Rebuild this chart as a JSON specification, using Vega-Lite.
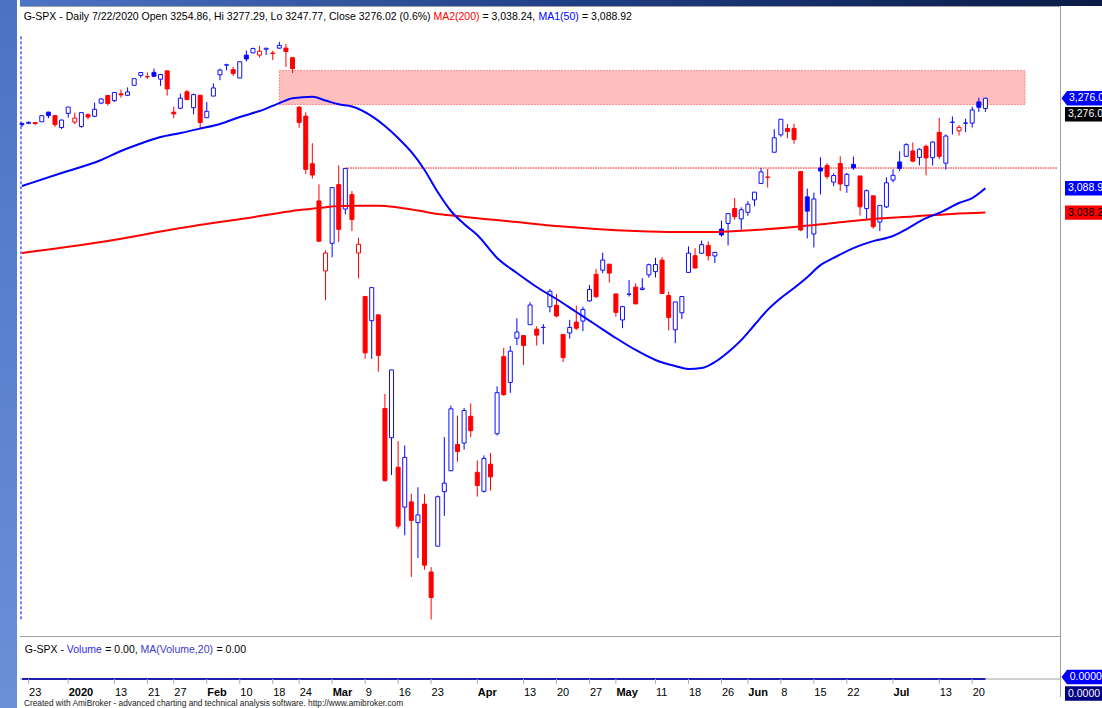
{
"$schema": "https://vega.github.io/schema/vega-lite/v6.json",
"padding": 0,
"background": "white",
"spacing": 0,
"config": {"view": {"stroke": null}, "concat": {"spacing": 0}, "font": "Liberation Sans, Arial, sans-serif"},
"datasets": {
"ohlc": [
{"d":"2019-12-20","o":3223.33,"h":3225.65,"l":3216.03,"c":3221.22},
{"d":"2019-12-23","o":3226.05,"h":3227.78,"l":3222.30,"c":3224.01},
{"d":"2019-12-24","o":3225.45,"h":3226.43,"l":3220.51,"c":3223.38},
{"d":"2019-12-26","o":3227.20,"h":3240.08,"l":3227.20,"c":3239.91},
{"d":"2019-12-27","o":3247.23,"h":3247.93,"l":3234.37,"c":3240.02},
{"d":"2019-12-30","o":3240.09,"h":3240.92,"l":3216.57,"c":3221.29},
{"d":"2019-12-31","o":3215.18,"h":3231.72,"l":3212.03,"c":3230.78},
{"d":"2020-01-02","o":3244.67,"h":3258.14,"l":3235.53,"c":3257.85},
{"d":"2020-01-03","o":3226.36,"h":3246.15,"l":3222.34,"c":3234.85},
{"d":"2020-01-06","o":3217.55,"h":3246.84,"l":3214.64,"c":3246.28},
{"d":"2020-01-07","o":3241.86,"h":3244.91,"l":3232.43,"c":3237.18},
{"d":"2020-01-08","o":3238.59,"h":3267.07,"l":3236.67,"c":3253.05},
{"d":"2020-01-09","o":3266.03,"h":3275.58,"l":3263.67,"c":3274.70},
{"d":"2020-01-10","o":3281.81,"h":3282.99,"l":3260.86,"c":3265.35},
{"d":"2020-01-13","o":3271.13,"h":3288.13,"l":3268.43,"c":3288.13},
{"d":"2020-01-14","o":3285.35,"h":3294.25,"l":3277.19,"c":3283.15},
{"d":"2020-01-15","o":3282.27,"h":3298.66,"l":3280.69,"c":3289.29},
{"d":"2020-01-16","o":3302.97,"h":3317.11,"l":3302.82,"c":3316.81},
{"d":"2020-01-17","o":3323.66,"h":3329.88,"l":3318.86,"c":3329.62},
{"d":"2020-01-21","o":3321.03,"h":3329.79,"l":3316.61,"c":3320.79},
{"d":"2020-01-22","o":3330.02,"h":3337.77,"l":3320.04,"c":3321.75},
{"d":"2020-01-23","o":3315.77,"h":3326.88,"l":3301.87,"c":3325.54},
{"d":"2020-01-24","o":3333.10,"h":3333.18,"l":3281.53,"c":3295.47},
{"d":"2020-01-27","o":3247.16,"h":3258.85,"l":3234.50,"c":3243.63},
{"d":"2020-01-28","o":3255.35,"h":3285.78,"l":3253.22,"c":3276.24},
{"d":"2020-01-29","o":3289.46,"h":3293.47,"l":3271.89,"c":3273.40},
{"d":"2020-01-30","o":3256.45,"h":3285.91,"l":3242.80,"c":3283.66},
{"d":"2020-01-31","o":3282.33,"h":3282.33,"l":3214.68,"c":3225.52},
{"d":"2020-02-03","o":3235.66,"h":3268.44,"l":3235.66,"c":3248.92},
{"d":"2020-02-04","o":3280.61,"h":3306.92,"l":3280.61,"c":3297.59},
{"d":"2020-02-05","o":3324.91,"h":3337.58,"l":3313.75,"c":3334.69},
{"d":"2020-02-06","o":3344.92,"h":3347.96,"l":3334.39,"c":3345.78},
{"d":"2020-02-07","o":3335.54,"h":3341.42,"l":3322.12,"c":3327.71},
{"d":"2020-02-10","o":3318.28,"h":3352.26,"l":3317.77,"c":3352.09},
{"d":"2020-02-11","o":3365.87,"h":3375.63,"l":3352.72,"c":3357.75},
{"d":"2020-02-12","o":3370.50,"h":3381.47,"l":3369.72,"c":3379.45},
{"d":"2020-02-13","o":3365.90,"h":3385.09,"l":3360.52,"c":3373.94},
{"d":"2020-02-14","o":3378.08,"h":3380.69,"l":3366.15,"c":3380.16},
{"d":"2020-02-18","o":3369.04,"h":3375.01,"l":3355.61,"c":3370.29},
{"d":"2020-02-19","o":3380.39,"h":3393.52,"l":3378.83,"c":3386.15},
{"d":"2020-02-20","o":3380.45,"h":3389.15,"l":3341.02,"c":3373.23},
{"d":"2020-02-21","o":3360.50,"h":3360.76,"l":3328.45,"c":3337.75},
{"d":"2020-02-24","o":3257.61,"h":3259.81,"l":3214.65,"c":3225.89},
{"d":"2020-02-25","o":3238.94,"h":3246.99,"l":3118.77,"c":3128.21},
{"d":"2020-02-26","o":3139.90,"h":3182.51,"l":3108.99,"c":3116.39},
{"d":"2020-02-27","o":3062.54,"h":3097.07,"l":2977.39,"c":2978.76},
{"d":"2020-02-28","o":2916.90,"h":2959.72,"l":2855.84,"c":2954.22},
{"d":"2020-03-02","o":2974.28,"h":3090.96,"l":2945.19,"c":3090.23},
{"d":"2020-03-03","o":3096.46,"h":3136.72,"l":2976.63,"c":3003.37},
{"d":"2020-03-04","o":3045.75,"h":3130.97,"l":3034.38,"c":3130.12},
{"d":"2020-03-05","o":3075.70,"h":3083.04,"l":2999.83,"c":3023.94},
{"d":"2020-03-06","o":2954.20,"h":2985.93,"l":2901.54,"c":2972.37},
{"d":"2020-03-09","o":2863.89,"h":2863.89,"l":2734.43,"c":2746.56},
{"d":"2020-03-10","o":2813.48,"h":2882.59,"l":2734.00,"c":2882.23},
{"d":"2020-03-11","o":2825.60,"h":2825.60,"l":2707.22,"c":2741.38},
{"d":"2020-03-12","o":2630.86,"h":2660.95,"l":2478.86,"c":2480.64},
{"d":"2020-03-13","o":2569.99,"h":2711.33,"l":2492.37,"c":2711.02},
{"d":"2020-03-16","o":2508.59,"h":2562.98,"l":2380.94,"c":2386.13},
{"d":"2020-03-17","o":2425.66,"h":2553.93,"l":2367.04,"c":2529.19},
{"d":"2020-03-18","o":2436.50,"h":2453.57,"l":2280.52,"c":2398.10},
{"d":"2020-03-19","o":2393.48,"h":2466.97,"l":2319.78,"c":2409.39},
{"d":"2020-03-20","o":2431.94,"h":2453.01,"l":2295.56,"c":2304.92},
{"d":"2020-03-23","o":2290.71,"h":2300.73,"l":2191.86,"c":2237.40},
{"d":"2020-03-24","o":2344.44,"h":2449.71,"l":2344.44,"c":2447.33},
{"d":"2020-03-25","o":2457.77,"h":2571.42,"l":2407.53,"c":2475.56},
{"d":"2020-03-26","o":2501.29,"h":2637.01,"l":2500.72,"c":2630.07},
{"d":"2020-03-27","o":2555.87,"h":2615.91,"l":2520.02,"c":2541.47},
{"d":"2020-03-30","o":2558.98,"h":2631.80,"l":2545.28,"c":2626.65},
{"d":"2020-03-31","o":2614.69,"h":2641.39,"l":2571.15,"c":2584.59},
{"d":"2020-04-01","o":2498.08,"h":2522.75,"l":2447.49,"c":2470.50},
{"d":"2020-04-02","o":2458.54,"h":2533.22,"l":2455.79,"c":2526.90},
{"d":"2020-04-03","o":2514.92,"h":2538.18,"l":2459.96,"c":2488.65},
{"d":"2020-04-06","o":2578.28,"h":2676.85,"l":2574.57,"c":2663.68},
{"d":"2020-04-07","o":2738.65,"h":2756.89,"l":2657.67,"c":2659.41},
{"d":"2020-04-08","o":2685.00,"h":2760.75,"l":2663.30,"c":2749.98},
{"d":"2020-04-09","o":2776.99,"h":2818.57,"l":2762.36,"c":2789.82},
{"d":"2020-04-13","o":2782.46,"h":2782.46,"l":2721.17,"c":2761.63},
{"d":"2020-04-14","o":2805.10,"h":2851.85,"l":2805.10,"c":2846.06},
{"d":"2020-04-15","o":2795.64,"h":2801.88,"l":2761.54,"c":2783.36},
{"d":"2020-04-16","o":2799.34,"h":2806.51,"l":2764.32,"c":2799.55},
{"d":"2020-04-17","o":2842.43,"h":2879.22,"l":2830.88,"c":2874.56},
{"d":"2020-04-20","o":2845.62,"h":2868.98,"l":2820.43,"c":2823.16},
{"d":"2020-04-21","o":2784.81,"h":2785.54,"l":2727.10,"c":2736.56},
{"d":"2020-04-22","o":2787.89,"h":2815.10,"l":2775.95,"c":2799.31},
{"d":"2020-04-23","o":2810.42,"h":2844.90,"l":2794.26,"c":2797.80},
{"d":"2020-04-24","o":2812.64,"h":2842.71,"l":2791.76,"c":2836.74},
{"d":"2020-04-27","o":2854.65,"h":2887.72,"l":2852.89,"c":2878.48},
{"d":"2020-04-28","o":2909.96,"h":2921.15,"l":2860.71,"c":2863.39},
{"d":"2020-04-29","o":2918.46,"h":2954.86,"l":2912.16,"c":2939.51},
{"d":"2020-04-30","o":2930.91,"h":2930.91,"l":2892.47,"c":2912.43},
{"d":"2020-05-01","o":2869.09,"h":2869.09,"l":2821.61,"c":2830.71},
{"d":"2020-05-04","o":2815.01,"h":2844.24,"l":2797.85,"c":2842.74},
{"d":"2020-05-05","o":2868.88,"h":2898.23,"l":2863.55,"c":2868.44},
{"d":"2020-05-06","o":2883.14,"h":2891.11,"l":2847.65,"c":2848.42},
{"d":"2020-05-07","o":2878.26,"h":2901.92,"l":2876.48,"c":2881.19},
{"d":"2020-05-08","o":2908.83,"h":2932.16,"l":2902.88,"c":2929.80},
{"d":"2020-05-11","o":2915.46,"h":2944.25,"l":2903.44,"c":2930.32},
{"d":"2020-05-12","o":2939.50,"h":2945.82,"l":2869.59,"c":2870.12},
{"d":"2020-05-13","o":2865.86,"h":2874.14,"l":2793.15,"c":2820.00},
{"d":"2020-05-14","o":2794.54,"h":2852.80,"l":2766.64,"c":2852.50},
{"d":"2020-05-15","o":2829.95,"h":2865.01,"l":2816.78,"c":2863.70},
{"d":"2020-05-18","o":2913.86,"h":2968.09,"l":2913.86,"c":2953.91},
{"d":"2020-05-19","o":2948.59,"h":2964.21,"l":2922.35,"c":2922.94},
{"d":"2020-05-20","o":2953.63,"h":2980.29,"l":2953.63,"c":2971.61},
{"d":"2020-05-21","o":2969.95,"h":2978.50,"l":2938.57,"c":2948.51},
{"d":"2020-05-22","o":2948.05,"h":2956.76,"l":2933.59,"c":2955.45},
{"d":"2020-05-26","o":3004.08,"h":3021.72,"l":2988.17,"c":2991.77},
{"d":"2020-05-27","o":3015.65,"h":3036.25,"l":2969.75,"c":3036.13},
{"d":"2020-05-28","o":3046.61,"h":3068.67,"l":3023.40,"c":3029.73},
{"d":"2020-05-29","o":3025.17,"h":3049.17,"l":2998.61,"c":3044.31},
{"d":"2020-06-01","o":3038.78,"h":3062.18,"l":3031.54,"c":3055.73},
{"d":"2020-06-02","o":3064.78,"h":3081.07,"l":3051.64,"c":3080.82},
{"d":"2020-06-03","o":3098.90,"h":3130.94,"l":3098.90,"c":3122.87},
{"d":"2020-06-04","o":3111.56,"h":3128.91,"l":3090.41,"c":3112.35},
{"d":"2020-06-05","o":3163.84,"h":3211.72,"l":3163.84,"c":3193.93},
{"d":"2020-06-08","o":3199.92,"h":3233.13,"l":3196.00,"c":3232.39},
{"d":"2020-06-09","o":3213.32,"h":3222.71,"l":3193.11,"c":3207.18},
{"d":"2020-06-10","o":3213.42,"h":3223.27,"l":3181.49,"c":3190.14},
{"d":"2020-06-11","o":3123.53,"h":3123.53,"l":2999.49,"c":3002.10},
{"d":"2020-06-12","o":3071.04,"h":3088.42,"l":2984.47,"c":3041.31},
{"d":"2020-06-15","o":2993.76,"h":3079.76,"l":2965.66,"c":3066.59},
{"d":"2020-06-16","o":3131.00,"h":3153.45,"l":3076.06,"c":3124.74},
{"d":"2020-06-17","o":3136.13,"h":3141.16,"l":3108.03,"c":3113.49},
{"d":"2020-06-18","o":3101.64,"h":3120.00,"l":3093.51,"c":3115.34},
{"d":"2020-06-19","o":3140.29,"h":3155.53,"l":3083.11,"c":3097.74},
{"d":"2020-06-22","o":3094.42,"h":3120.92,"l":3079.39,"c":3117.86},
{"d":"2020-06-23","o":3138.70,"h":3154.90,"l":3127.12,"c":3131.29},
{"d":"2020-06-24","o":3114.40,"h":3115.01,"l":3032.13,"c":3050.33},
{"d":"2020-06-25","o":3046.60,"h":3086.25,"l":3024.01,"c":3083.76},
{"d":"2020-06-26","o":3073.20,"h":3073.73,"l":3004.63,"c":3009.05},
{"d":"2020-06-29","o":3018.59,"h":3053.89,"l":2999.74,"c":3053.24},
{"d":"2020-06-30","o":3050.20,"h":3111.51,"l":3047.83,"c":3100.29},
{"d":"2020-07-01","o":3105.92,"h":3128.44,"l":3101.17,"c":3115.86},
{"d":"2020-07-02","o":3143.64,"h":3165.81,"l":3124.52,"c":3130.01},
{"d":"2020-07-06","o":3155.29,"h":3182.59,"l":3155.29,"c":3179.72},
{"d":"2020-07-07","o":3166.44,"h":3184.15,"l":3142.93,"c":3145.32},
{"d":"2020-07-08","o":3153.07,"h":3171.80,"l":3136.53,"c":3169.94},
{"d":"2020-07-09","o":3176.17,"h":3179.78,"l":3115.70,"c":3152.05},
{"d":"2020-07-10","o":3152.47,"h":3186.82,"l":3136.22,"c":3185.04},
{"d":"2020-07-13","o":3205.08,"h":3235.32,"l":3149.43,"c":3155.22},
{"d":"2020-07-14","o":3141.11,"h":3200.95,"l":3127.66,"c":3197.52},
{"d":"2020-07-15","o":3225.98,"h":3238.28,"l":3200.76,"c":3226.56},
{"d":"2020-07-16","o":3208.36,"h":3220.39,"l":3198.59,"c":3215.57},
{"d":"2020-07-17","o":3224.21,"h":3233.52,"l":3205.65,"c":3224.73},
{"d":"2020-07-20","o":3224.29,"h":3258.61,"l":3215.16,"c":3251.84},
{"d":"2020-07-21","o":3268.52,"h":3277.29,"l":3247.77,"c":3257.30},
{"d":"2020-07-22","o":3254.86,"h":3277.29,"l":3247.77,"c":3276.02}
],
"ma50": [
{"d":"2019-12-20","v":3093.6},{"d":"2019-12-31","v":3120.6},{"d":"2020-01-09","v":3147.7},{"d":"2020-01-14","v":3166.4},
{"d":"2020-01-17","v":3182.0},{"d":"2020-01-23","v":3195.5},{"d":"2020-01-28","v":3203.8},{"d":"2020-01-31","v":3213.0},
{"d":"2020-02-05","v":3222.6},{"d":"2020-02-10","v":3237.0},{"d":"2020-02-13","v":3249.6},{"d":"2020-02-19","v":3266.0},
{"d":"2020-02-21","v":3276.0},{"d":"2020-02-26","v":3279.3},{"d":"2020-02-28","v":3271.4},{"d":"2020-03-03","v":3263.5},
{"d":"2020-03-05","v":3259.0},{"d":"2020-03-10","v":3239.0},{"d":"2020-03-12","v":3218.4},{"d":"2020-03-16","v":3193.4},
{"d":"2020-03-18","v":3164.4},{"d":"2020-03-20","v":3127.0},{"d":"2020-03-24","v":3081.0},{"d":"2020-03-26","v":3041.6},
{"d":"2020-03-30","v":3014.5},{"d":"2020-04-01","v":2991.6},{"d":"2020-04-06","v":2944.0},{"d":"2020-04-09","v":2912.6},
{"d":"2020-04-15","v":2883.5},{"d":"2020-04-20","v":2858.5},{"d":"2020-04-23","v":2831.5},{"d":"2020-04-28","v":2804.5},
{"d":"2020-05-01","v":2777.4},{"d":"2020-05-06","v":2752.5},{"d":"2020-05-11","v":2731.7},{"d":"2020-05-14","v":2719.0},
{"d":"2020-05-18","v":2713.0},{"d":"2020-05-20","v":2715.0},{"d":"2020-05-22","v":2727.5},{"d":"2020-05-27","v":2748.0},
{"d":"2020-05-29","v":2773.0},{"d":"2020-06-02","v":2804.5},{"d":"2020-06-04","v":2836.0},{"d":"2020-06-08","v":2860.6},
{"d":"2020-06-10","v":2881.6},{"d":"2020-06-12","v":2904.0},{"d":"2020-06-16","v":2929.0},{"d":"2020-06-18","v":2944.0},
{"d":"2020-06-23","v":2964.5},{"d":"2020-06-26","v":2979.0},{"d":"2020-07-01","v":2989.5},{"d":"2020-07-06","v":3003.6},
{"d":"2020-07-09","v":3026.6},{"d":"2020-07-13","v":3037.4},{"d":"2020-07-16","v":3058.2},{"d":"2020-07-20","v":3068.6},
{"d":"2020-07-22","v":3088.92}
],
"ma200": [
{"d":"2019-12-20","v":2954.2},{"d":"2020-01-09","v":2977.0},{"d":"2020-01-28","v":3006.2},{"d":"2020-02-13","v":3031.0},
{"d":"2020-02-19","v":3037.5},{"d":"2020-02-24","v":3043.7},{"d":"2020-02-27","v":3047.8},{"d":"2020-03-03","v":3052.0},
{"d":"2020-03-06","v":3052.6},{"d":"2020-03-11","v":3052.6},{"d":"2020-03-16","v":3048.9},{"d":"2020-03-19","v":3042.6},
{"d":"2020-03-24","v":3035.3},{"d":"2020-03-27","v":3031.2},{"d":"2020-04-01","v":3026.4},{"d":"2020-04-09","v":3018.7},
{"d":"2020-04-20","v":3010.4},{"d":"2020-04-28","v":3004.2},{"d":"2020-05-06","v":3000.0},{"d":"2020-05-14","v":2997.9},
{"d":"2020-05-22","v":2997.9},{"d":"2020-06-02","v":3002.0},{"d":"2020-06-10","v":3008.3},{"d":"2020-06-18","v":3016.6},
{"d":"2020-06-26","v":3025.0},{"d":"2020-07-07","v":3030.2},{"d":"2020-07-15","v":3035.4},{"d":"2020-07-22","v":3038.24}
],
"xlab": [
{"d":"2019-12-23","t":"23","k":"d"},{"d":"2020-01-02","t":"2020","k":"m"},{"d":"2020-01-13","t":"13","k":"d"},
{"d":"2020-01-21","t":"21","k":"d"},{"d":"2020-01-27","t":"27","k":"d"},{"d":"2020-02-03","t":"Feb","k":"m"},
{"d":"2020-02-10","t":"10","k":"d"},{"d":"2020-02-18","t":"18","k":"d"},{"d":"2020-02-24","t":"24","k":"d"},
{"d":"2020-03-02","t":"Mar","k":"m"},{"d":"2020-03-09","t":"9","k":"d"},{"d":"2020-03-16","t":"16","k":"d"},
{"d":"2020-03-23","t":"23","k":"d"},{"d":"2020-04-01","t":"Apr","k":"m"},{"d":"2020-04-13","t":"13","k":"d"},
{"d":"2020-04-20","t":"20","k":"d"},{"d":"2020-04-27","t":"27","k":"d"},{"d":"2020-05-01","t":"May","k":"m"},
{"d":"2020-05-11","t":"11","k":"d"},{"d":"2020-05-18","t":"18","k":"d"},{"d":"2020-05-26","t":"26","k":"d"},
{"d":"2020-06-01","t":"Jun","k":"m"},{"d":"2020-06-08","t":"8","k":"d"},{"d":"2020-06-15","t":"15","k":"d"},
{"d":"2020-06-22","t":"22","k":"d"},{"d":"2020-07-01","t":"Jul","k":"m"},{"d":"2020-07-13","t":"13","k":"d"},
{"d":"2020-07-20","t":"20","k":"d"}
]
},
"hconcat": [
{
"width": 17, "height": 708,
"data": {"values": [{}]},
"mark": {"type": "rect", "color": {"x1": 0, "y1": 0, "x2": 0, "y2": 1, "gradient": "linear", "stops": [{"offset": 0, "color": "#4b73c4"}, {"offset": 1, "color": "#6b90d8"}]}},
"encoding": {
"x": {"datum": 0, "type": "quantitative", "scale": {"domain": [0, 1]}, "axis": null},
"x2": {"datum": 1},
"y": {"datum": 0, "type": "quantitative", "scale": {"domain": [0, 1]}, "axis": null},
"y2": {"datum": 1}
}
},
{
"spacing": 0,
"vconcat": [
{
"width": 1085, "height": 6,
"data": {"values": [{}]},
"mark": {"type": "rect", "color": {"x1": 0, "y1": 0, "x2": 1, "y2": 0, "gradient": "linear", "stops": [{"offset": 0, "color": "#4d75c5"}, {"offset": 0.5, "color": "#203f86"}, {"offset": 1, "color": "#0a1b46"}]}},
"encoding": {
"x": {"datum": 0, "type": "quantitative", "scale": {"domain": [0, 1]}, "axis": null},
"x2": {"datum": 1},
"y": {"datum": 0, "type": "quantitative", "scale": {"domain": [0, 1]}, "axis": null},
"y2": {"datum": 1}
}
},
{
"spacing": 0,
"bounds": "flush",
"hconcat": [
{
"width": 1040, "height": 631,
"view": {"stroke": null, "fill": "white"},
"layer": [
{
"data": {"values": [{}]},
"mark": {"type": "rect", "fill": "#ffbfbf", "stroke": "#ff7070", "strokeWidth": 1, "strokeDash": [1.5, 1.5]},
"encoding": {
"x": {"datum": "2020-02-19", "type": "ordinal", "axis": null},
"x2": {"datum": "2020-07-30"},
"y": {"datum": 3334, "type": "quantitative", "axis": null},
"y2": {"datum": 3263}
}
},
{
"data": {"values": [{}]},
"mark": {"type": "rule", "color": "#ff0000", "strokeWidth": 1, "strokeDash": [1.5, 1]},
"encoding": {
"x": {"datum": "2020-03-04", "type": "ordinal", "axis": null},
"x2": {"datum": "2020-08-06"},
"y": {"datum": 3131, "type": "quantitative", "axis": null}
}
},
{
"data": {"name": "ohlc"},
"transform": [{"window": [{"op": "lag", "field": "c", "as": "pc"}], "sort": [{"field": "d", "order": "ascending"}]}],
"layer": [
{
"mark": {"type": "rule", "strokeWidth": 1},
"encoding": {
"x": {"field": "d", "type": "ordinal", "axis": null, "scale": {"type": "point", "padding": 0.303, "domain": ["2019-12-20","2019-12-23","2019-12-24","2019-12-26","2019-12-27","2019-12-30","2019-12-31","2020-01-02","2020-01-03","2020-01-06","2020-01-07","2020-01-08","2020-01-09","2020-01-10","2020-01-13","2020-01-14","2020-01-15","2020-01-16","2020-01-17","2020-01-21","2020-01-22","2020-01-23","2020-01-24","2020-01-27","2020-01-28","2020-01-29","2020-01-30","2020-01-31","2020-02-03","2020-02-04","2020-02-05","2020-02-06","2020-02-07","2020-02-10","2020-02-11","2020-02-12","2020-02-13","2020-02-14","2020-02-18","2020-02-19","2020-02-20","2020-02-21","2020-02-24","2020-02-25","2020-02-26","2020-02-27","2020-02-28","2020-03-02","2020-03-03","2020-03-04","2020-03-05","2020-03-06","2020-03-09","2020-03-10","2020-03-11","2020-03-12","2020-03-13","2020-03-16","2020-03-17","2020-03-18","2020-03-19","2020-03-20","2020-03-23","2020-03-24","2020-03-25","2020-03-26","2020-03-27","2020-03-30","2020-03-31","2020-04-01","2020-04-02","2020-04-03","2020-04-06","2020-04-07","2020-04-08","2020-04-09","2020-04-13","2020-04-14","2020-04-15","2020-04-16","2020-04-17","2020-04-20","2020-04-21","2020-04-22","2020-04-23","2020-04-24","2020-04-27","2020-04-28","2020-04-29","2020-04-30","2020-05-01","2020-05-04","2020-05-05","2020-05-06","2020-05-07","2020-05-08","2020-05-11","2020-05-12","2020-05-13","2020-05-14","2020-05-15","2020-05-18","2020-05-19","2020-05-20","2020-05-21","2020-05-22","2020-05-26","2020-05-27","2020-05-28","2020-05-29","2020-06-01","2020-06-02","2020-06-03","2020-06-04","2020-06-05","2020-06-08","2020-06-09","2020-06-10","2020-06-11","2020-06-12","2020-06-15","2020-06-16","2020-06-17","2020-06-18","2020-06-19","2020-06-22","2020-06-23","2020-06-24","2020-06-25","2020-06-26","2020-06-29","2020-06-30","2020-07-01","2020-07-02","2020-07-06","2020-07-07","2020-07-08","2020-07-09","2020-07-10","2020-07-13","2020-07-14","2020-07-15","2020-07-16","2020-07-17","2020-07-20","2020-07-21","2020-07-22","2020-07-23","2020-07-24","2020-07-27","2020-07-28","2020-07-29","2020-07-30","2020-07-31","2020-08-03","2020-08-04","2020-08-05","2020-08-06"]}},
"y": {"field": "l", "type": "quantitative", "axis": null, "scale": {"domain": [2155.5, 3468], "nice": false, "zero": false}},
"y2": {"field": "h"},
"color": {"condition": {"test": "datum.c >= datum.pc", "value": "#0000ff"}, "value": "#ff0000"}
}
},
{
"mark": {"type": "bar", "width": 4, "strokeWidth": 1},
"encoding": {
"x": {"field": "d", "type": "ordinal", "axis": null},
"y": {"field": "o", "type": "quantitative", "axis": null},
"y2": {"field": "c"},
"stroke": {"condition": {"test": "datum.c >= datum.pc", "value": "#1010ff"}, "value": "#ff0000"},
"fill": {"condition": [{"test": "datum.c > datum.o", "value": "#ffffff"}, {"test": "datum.c >= datum.pc", "value": "#0000ff"}], "value": "#ff0000"}
}
}
]
},
{
"data": {"name": "ma200"},
"mark": {"type": "line", "color": "#ff0000", "strokeWidth": 2, "interpolate": "monotone"},
"encoding": {
"x": {"field": "d", "type": "ordinal", "axis": null},
"y": {"field": "v", "type": "quantitative", "axis": null}
}
},
{
"data": {"name": "ma50"},
"mark": {"type": "line", "color": "#0000ff", "strokeWidth": 2, "interpolate": "monotone"},
"encoding": {
"x": {"field": "d", "type": "ordinal", "axis": null},
"y": {"field": "v", "type": "quantitative", "axis": null}
}
},
{
"data": {"values": [{}]},
"mark": {"type": "rule", "color": "#0000ff", "strokeWidth": 1, "strokeDash": [3, 2], "xOffset": -1},
"encoding": {
"x": {"datum": "2019-12-20", "type": "ordinal", "axis": null},
"y": {"datum": 3405, "type": "quantitative", "axis": null},
"y2": {"datum": 2192}
}
},
{
"data": {"values": [{}]},
"mark": {"type": "rule", "color": "#a0a0a0", "strokeWidth": 2, "clip": true},
"encoding": {"y": {"datum": 3468, "type": "quantitative", "axis": null}}
},
{
"data": {"values": [{}]},
"mark": {"type": "rule", "color": "#a0a0a0", "strokeWidth": 2, "clip": true},
"encoding": {"y": {"datum": 2155.5, "type": "quantitative", "axis": null}}
},
{
"data": {"values": [{}]},
"mark": {"type": "text", "align": "left", "baseline": "alphabetic", "fontSize": 10.5, "color": "#000000", "dx": 1.7},
"encoding": {
"x": {"datum": "2019-12-20", "type": "ordinal", "axis": null},
"y": {"datum": 3439, "type": "quantitative", "axis": null},
"text": {"value": "G-SPX - Daily 7/22/2020 Open 3254.86, Hi 3277.29, Lo 3247.77, Close 3276.02 (0.6%)"}
}
},
{
"data": {"values": [{}]},
"mark": {"type": "text", "align": "left", "baseline": "alphabetic", "fontSize": 10.5, "color": "#ff0000", "dx": 411.4},
"encoding": {
"x": {"datum": "2019-12-20", "type": "ordinal", "axis": null},
"y": {"datum": 3439, "type": "quantitative", "axis": null},
"text": {"value": "MA2(200)"}
}
},
{
"data": {"values": [{}]},
"mark": {"type": "text", "align": "left", "baseline": "alphabetic", "fontSize": 10.5, "color": "#000000", "dx": 460.4},
"encoding": {
"x": {"datum": "2019-12-20", "type": "ordinal", "axis": null},
"y": {"datum": 3439, "type": "quantitative", "axis": null},
"text": {"value": "= 3,038.24,"}
}
},
{
"data": {"values": [{}]},
"mark": {"type": "text", "align": "left", "baseline": "alphabetic", "fontSize": 10.5, "color": "#0000ff", "dx": 516.5},
"encoding": {
"x": {"datum": "2019-12-20", "type": "ordinal", "axis": null},
"y": {"datum": 3439, "type": "quantitative", "axis": null},
"text": {"value": "MA1(50)"}
}
},
{
"data": {"values": [{}]},
"mark": {"type": "text", "align": "left", "baseline": "alphabetic", "fontSize": 10.5, "color": "#000000", "dx": 560},
"encoding": {
"x": {"datum": "2019-12-20", "type": "ordinal", "axis": null},
"y": {"datum": 3439, "type": "quantitative", "axis": null},
"text": {"value": "= 3,088.92"}
}
}
]
},
{
"width": 45, "height": 631,
"view": {"stroke": null, "fill": "white"},
"data": {"values": [{}]},
"layer": [
{
"mark": {"type": "rule", "color": "#a0a0a0", "strokeWidth": 2, "clip": true},
"encoding": {
"x": {"datum": 0, "type": "quantitative", "axis": null, "scale": {"domain": [0, 1], "nice": false, "zero": false}},
"y": {"datum": 3468, "type": "quantitative", "axis": null, "scale": {"domain": [2155.5, 3468], "nice": false, "zero": false}},
"y2": {"datum": 2155.5}
}
},
{
"mark": {"type": "point", "shape": "M-1.05,0L-0.775,-0.36H1.125V0.36H-0.775Z", "filled": true, "size": 1600, "color": "#0000ff", "opacity": 1, "strokeWidth": 0, "clip": true},
"encoding": {"x": {"datum": 0.5, "type": "quantitative", "axis": null}, "y": {"datum": 3276.02, "type": "quantitative", "axis": null}}
},
{
"mark": {"type": "point", "shape": "M-0.875,-0.36H1.125V0.36H-0.875Z", "filled": true, "size": 1600, "color": "#000000", "opacity": 1, "strokeWidth": 0, "clip": true, "yOffset": 16},
"encoding": {"x": {"datum": 0.5, "type": "quantitative", "axis": null}, "y": {"datum": 3276.02, "type": "quantitative", "axis": null}}
},
{
"mark": {"type": "point", "shape": "M-0.875,-0.36H1.125V0.36H-0.875Z", "filled": true, "size": 1600, "color": "#0000ff", "opacity": 1, "strokeWidth": 0, "clip": true},
"encoding": {"x": {"datum": 0.5, "type": "quantitative", "axis": null}, "y": {"datum": 3088.92, "type": "quantitative", "axis": null}}
},
{
"mark": {"type": "point", "shape": "M-0.875,-0.36H1.125V0.36H-0.875Z", "filled": true, "size": 1600, "color": "#ff0000", "opacity": 1, "strokeWidth": 0, "clip": true},
"encoding": {"x": {"datum": 0.5, "type": "quantitative", "axis": null}, "y": {"datum": 3038.24, "type": "quantitative", "axis": null}}
},
{
"mark": {"type": "text", "align": "left", "baseline": "middle", "fontSize": 10.5, "color": "#ffffff", "dx": -13.5},
"encoding": {"x": {"datum": 0.5, "type": "quantitative", "axis": null}, "y": {"datum": 3276.02, "type": "quantitative", "axis": null}, "text": {"datum": 3276.02, "format": ",.1f"}}
},
{
"mark": {"type": "text", "align": "left", "baseline": "middle", "fontSize": 10.5, "color": "#ffffff", "dx": -14.5, "yOffset": 16},
"encoding": {"x": {"datum": 0.5, "type": "quantitative", "axis": null}, "y": {"datum": 3276.02, "type": "quantitative", "axis": null}, "text": {"datum": 3276.02, "format": ",.1f"}}
},
{
"mark": {"type": "text", "align": "left", "baseline": "middle", "fontSize": 10.5, "color": "#ffffff", "dx": -14.5},
"encoding": {"x": {"datum": 0.5, "type": "quantitative", "axis": null}, "y": {"datum": 3088.92, "type": "quantitative", "axis": null}, "text": {"datum": 3088.92, "format": ",.1f"}}
},
{
"mark": {"type": "text", "align": "left", "baseline": "middle", "fontSize": 10.5, "color": "#000000", "dx": -14.5},
"encoding": {"x": {"datum": 0.5, "type": "quantitative", "axis": null}, "y": {"datum": 3038.24, "type": "quantitative", "axis": null}, "text": {"datum": 3038.24, "format": ",.1f"}}
}
]
}
]
},
{
"spacing": 0,
"bounds": "flush",
"hconcat": [
{
"width": 1040, "height": 42,
"view": {"stroke": null, "fill": "white"},
"layer": [
{
"data": {"values": [{}]},
"mark": {"type": "rule", "color": "#a0a0a0", "strokeWidth": 1},
"encoding": {"y": {"datum": 0, "type": "quantitative", "axis": null, "scale": {"domain": [0, 1], "nice": false, "zero": false}}}
},
{
"data": {"name": "ohlc"},
"mark": {"type": "line", "color": "#1f1fb0", "strokeWidth": 2},
"encoding": {
"x": {"field": "d", "type": "ordinal", "axis": null,
"scale": {"type": "point", "padding": 0.303, "domain": ["2019-12-20","2019-12-23","2019-12-24","2019-12-26","2019-12-27","2019-12-30","2019-12-31","2020-01-02","2020-01-03","2020-01-06","2020-01-07","2020-01-08","2020-01-09","2020-01-10","2020-01-13","2020-01-14","2020-01-15","2020-01-16","2020-01-17","2020-01-21","2020-01-22","2020-01-23","2020-01-24","2020-01-27","2020-01-28","2020-01-29","2020-01-30","2020-01-31","2020-02-03","2020-02-04","2020-02-05","2020-02-06","2020-02-07","2020-02-10","2020-02-11","2020-02-12","2020-02-13","2020-02-14","2020-02-18","2020-02-19","2020-02-20","2020-02-21","2020-02-24","2020-02-25","2020-02-26","2020-02-27","2020-02-28","2020-03-02","2020-03-03","2020-03-04","2020-03-05","2020-03-06","2020-03-09","2020-03-10","2020-03-11","2020-03-12","2020-03-13","2020-03-16","2020-03-17","2020-03-18","2020-03-19","2020-03-20","2020-03-23","2020-03-24","2020-03-25","2020-03-26","2020-03-27","2020-03-30","2020-03-31","2020-04-01","2020-04-02","2020-04-03","2020-04-06","2020-04-07","2020-04-08","2020-04-09","2020-04-13","2020-04-14","2020-04-15","2020-04-16","2020-04-17","2020-04-20","2020-04-21","2020-04-22","2020-04-23","2020-04-24","2020-04-27","2020-04-28","2020-04-29","2020-04-30","2020-05-01","2020-05-04","2020-05-05","2020-05-06","2020-05-07","2020-05-08","2020-05-11","2020-05-12","2020-05-13","2020-05-14","2020-05-15","2020-05-18","2020-05-19","2020-05-20","2020-05-21","2020-05-22","2020-05-26","2020-05-27","2020-05-28","2020-05-29","2020-06-01","2020-06-02","2020-06-03","2020-06-04","2020-06-05","2020-06-08","2020-06-09","2020-06-10","2020-06-11","2020-06-12","2020-06-15","2020-06-16","2020-06-17","2020-06-18","2020-06-19","2020-06-22","2020-06-23","2020-06-24","2020-06-25","2020-06-26","2020-06-29","2020-06-30","2020-07-01","2020-07-02","2020-07-06","2020-07-07","2020-07-08","2020-07-09","2020-07-10","2020-07-13","2020-07-14","2020-07-15","2020-07-16","2020-07-17","2020-07-20","2020-07-21","2020-07-22","2020-07-23","2020-07-24","2020-07-27","2020-07-28","2020-07-29","2020-07-30","2020-07-31","2020-08-03","2020-08-04","2020-08-05","2020-08-06"]}},
"y": {"datum": 0, "type": "quantitative", "axis": null}
}
},
{
"data": {"name": "xlab"},
"mark": {"type": "rule", "color": "#b0b0b0", "strokeWidth": 1},
"encoding": {
"x": {"field": "d", "type": "ordinal", "axis": null},
"y": {"datum": 0, "type": "quantitative", "axis": null},
"y2": {"datum": -0.12}
}
},
{
"data": {"name": "xlab"},
"transform": [{"filter": "datum.k == 'd'"}],
"mark": {"type": "text", "align": "left", "baseline": "top", "fontSize": 11, "color": "#000000", "dx": 0.5, "dy": 8},
"encoding": {
"x": {"field": "d", "type": "ordinal", "axis": null},
"y": {"datum": 0, "type": "quantitative", "axis": null},
"text": {"field": "t"}
}
},
{
"data": {"name": "xlab"},
"transform": [{"filter": "datum.k == 'm'"}],
"mark": {"type": "text", "align": "left", "baseline": "top", "fontSize": 11, "fontWeight": "bold", "color": "#000000", "dx": 0.5, "dy": 8},
"encoding": {
"x": {"field": "d", "type": "ordinal", "axis": null},
"y": {"datum": 0, "type": "quantitative", "axis": null},
"text": {"field": "t"}
}
},
{
"data": {"values": [{}]},
"mark": {"type": "text", "align": "left", "baseline": "alphabetic", "fontSize": 10.5, "color": "#000000", "dx": 2.8},
"encoding": {"x": {"datum": "2019-12-20", "type": "ordinal", "axis": null}, "y": {"datum": 0.619, "type": "quantitative", "axis": null}, "text": {"value": "G-SPX -"}}
},
{
"data": {"values": [{}]},
"mark": {"type": "text", "align": "left", "baseline": "alphabetic", "fontSize": 10.5, "color": "#2a2af0", "dx": 44.8},
"encoding": {"x": {"datum": "2019-12-20", "type": "ordinal", "axis": null}, "y": {"datum": 0.619, "type": "quantitative", "axis": null}, "text": {"value": "Volume"}}
},
{
"data": {"values": [{}]},
"mark": {"type": "text", "align": "left", "baseline": "alphabetic", "fontSize": 10.5, "color": "#000000", "dx": 83.3},
"encoding": {"x": {"datum": "2019-12-20", "type": "ordinal", "axis": null}, "y": {"datum": 0.619, "type": "quantitative", "axis": null}, "text": {"value": "= 0.00,"}}
},
{
"data": {"values": [{}]},
"mark": {"type": "text", "align": "left", "baseline": "alphabetic", "fontSize": 10.5, "color": "#3b3bc8", "dx": 118.6},
"encoding": {"x": {"datum": "2019-12-20", "type": "ordinal", "axis": null}, "y": {"datum": 0.619, "type": "quantitative", "axis": null}, "text": {"value": "MA(Volume,20)"}}
},
{
"data": {"values": [{}]},
"mark": {"type": "text", "align": "left", "baseline": "alphabetic", "fontSize": 10.5, "color": "#000000", "dx": 194.5},
"encoding": {"x": {"datum": "2019-12-20", "type": "ordinal", "axis": null}, "y": {"datum": 0.619, "type": "quantitative", "axis": null}, "text": {"value": "= 0.00"}}
},
{
"data": {"values": [{}]},
"mark": {"type": "text", "align": "left", "baseline": "alphabetic", "fontSize": 8.3, "color": "#202020", "dx": 2},
"encoding": {"x": {"datum": "2019-12-20", "type": "ordinal", "axis": null}, "y": {"datum": -0.643, "type": "quantitative", "axis": null}, "text": {"value": "Created with AmiBroker - advanced charting and technical analysis software. http://www.amibroker.com"}}
}
]
},
{
"width": 45, "height": 71,
"view": {"stroke": null, "fill": "white"},
"data": {"values": [{}]},
"layer": [
{
"mark": {"type": "rule", "color": "#a0a0a0", "strokeWidth": 2, "clip": true},
"encoding": {
"x": {"datum": 0, "type": "quantitative", "axis": null, "scale": {"domain": [0, 1], "nice": false, "zero": false}},
"y": {"datum": 1, "type": "quantitative", "axis": null, "scale": {"domain": [-0.69, 1], "nice": false, "zero": false}},
"y2": {"datum": -0.43}
}
},
{
"mark": {"type": "point", "shape": "M-1.05,0L-0.775,-0.36H1.125V0.36H-0.775Z", "filled": true, "size": 1600, "color": "#0000ff", "opacity": 1, "strokeWidth": 0, "clip": true, "yOffset": -2},
"encoding": {"x": {"datum": 0.5, "type": "quantitative", "axis": null}, "y": {"datum": 0, "type": "quantitative", "axis": null}}
},
{
"mark": {"type": "point", "shape": "M-0.875,-0.36H1.125V0.36H-0.875Z", "filled": true, "size": 1600, "color": "#000080", "opacity": 1, "strokeWidth": 0, "clip": true, "yOffset": 14.5},
"encoding": {"x": {"datum": 0.5, "type": "quantitative", "axis": null}, "y": {"datum": 0, "type": "quantitative", "axis": null}}
},
{
"mark": {"type": "text", "align": "left", "baseline": "middle", "fontSize": 10.5, "color": "#ffffff", "dx": -12.8, "yOffset": -2},
"encoding": {"x": {"datum": 0.5, "type": "quantitative", "axis": null}, "y": {"datum": 0, "type": "quantitative", "axis": null}, "text": {"datum": 0, "format": ".4f"}}
},
{
"mark": {"type": "text", "align": "left", "baseline": "middle", "fontSize": 10.5, "color": "#ffffff", "dx": -14.5, "yOffset": 14.5},
"encoding": {"x": {"datum": 0.5, "type": "quantitative", "axis": null}, "y": {"datum": 0, "type": "quantitative", "axis": null}, "text": {"datum": 0, "format": ".4f"}}
}
]
}
]
}
]
}
]
}
